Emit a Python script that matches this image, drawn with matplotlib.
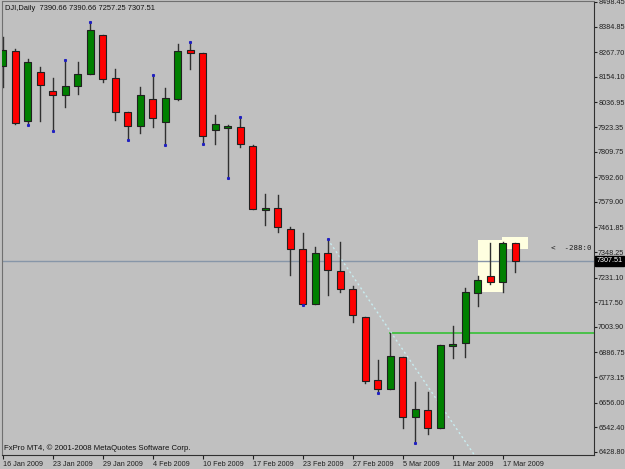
import matplotlib
matplotlib.use("Agg")
import matplotlib.pyplot as plt
from matplotlib.patches import Rectangle
import matplotlib.transforms as mtransforms

plt.rcParams["font.family"] = ["Liberation Sans", "DejaVu Sans"]

# -----data-----

dates = ["16 Jan 2009", "20 Jan 2009", "21 Jan 2009", "22 Jan 2009", "23 Jan 2009",
         "26 Jan 2009", "27 Jan 2009", "28 Jan 2009", "29 Jan 2009", "30 Jan 2009",
         "2 Feb 2009", "3 Feb 2009", "4 Feb 2009", "5 Feb 2009", "6 Feb 2009",
         "9 Feb 2009", "10 Feb 2009", "11 Feb 2009", "12 Feb 2009", "13 Feb 2009",
         "17 Feb 2009", "18 Feb 2009", "19 Feb 2009", "20 Feb 2009", "23 Feb 2009",
         "24 Feb 2009", "25 Feb 2009", "26 Feb 2009", "27 Feb 2009", "2 Mar 2009",
         "3 Mar 2009", "4 Mar 2009", "5 Mar 2009", "6 Mar 2009", "9 Mar 2009",
         "10 Mar 2009", "11 Mar 2009", "12 Mar 2009", "13 Mar 2009", "16 Mar 2009",
         "17 Mar 2009", "18 Mar 2009"]

opens = [8205.5, 8273.0, 7952.5, 8176.5, 8090.5, 8070.6, 8113.4, 8168.6, 8346.6, 8147.5,
         7992.5, 7929.4, 8050.9, 7947.9, 8050.9, 8276.2, 8262.5, 7909.7, 7917.5, 7922.0,
         7837.4, 7541.6, 7549.5, 7452.9, 7360.9, 7108.0, 7345.3, 7262.6, 7176.9, 7050.8,
         6758.2, 6719.6, 6866.9, 6589.5, 6621.6, 6540.2, 6917.4, 6928.5, 7161.2, 7238.0,
         7211.8, 7390.66]
highs = [8336.0, 8280.9, 8236.0, 8199.5, 8147.5, 8233.0, 8221.0, 8406.4, 8346.6, 8190.2,
         7992.5, 8106.0, 8161.3, 8101.5, 8306.6, 8315.8, 8262.5, 7978.7, 7932.6, 7970.8,
         7840.0, 7613.9, 7609.3, 7464.9, 7434.5, 7372.9, 7406.9, 7395.8, 7192.0, 7050.8,
         6851.6, 6974.5, 6866.9, 6751.9, 6705.8, 6920.6, 7008.0, 7181.5, 7238.0, 7388.5,
         7395.8, 7390.66]
lows = [8106.0, 7936.0, 7932.6, 7952.5, 7906.5, 8016.8, 8073.9, 8166.0, 8131.8, 7955.6,
        7863.6, 7897.0, 7922.0, 7840.6, 8048.0, 8190.2, 7845.2, 7845.2, 7690.2, 7832.8,
        7544.0, 7474.0, 7441.8, 7244.0, 7103.0, 7108.0, 7149.3, 7165.8, 7027.8, 6747.0,
        6701.3, 6719.6, 6538.8, 6468.5, 6509.9, 6540.2, 6859.5, 6866.9, 7100.0, 7201.2,
        7165.8, 7257.25]
closes = [8277.7, 7940.5, 8223.8, 8118.0, 8070.6, 8110.7, 8168.6, 8369.6, 8142.9, 7993.8,
          7929.4, 8070.6, 7966.2, 8058.3, 8273.0, 8265.2, 7882.0, 7935.9, 7928.0, 7843.9,
          7546.3, 7549.5, 7462.0, 7360.9, 7108.0, 7345.3, 7265.6, 7176.9, 7058.6, 6755.0,
          6719.6, 6870.0, 6589.5, 6625.0, 6540.2, 6920.6, 6925.3, 7165.8, 7219.6, 7211.8,
          7388.5, 7307.51]

# small blue marks at some highs / lows
marks_up = [5, 7, 12, 15, 19, 26]
marks_down = [2, 4, 10, 13, 16, 18, 24, 30, 33]

yticks = [8498.45, 8384.85, 8267.70, 8154.10, 8036.95, 7923.35, 7809.75, 7692.60,
          7579.00, 7461.85, 7348.25, 7231.10, 7117.50, 7003.90, 6886.75, 6773.15,
          6656.00, 6542.40, 6428.80]

bid = 7307.51
level_start, level_price = 31, 6974.5          # green horizontal line
trend = [(26, 7406.9), (38, 6392.0)]           # dotted trend line
boxes = [(38.0, 7165.8, 2.0, 237.8), (39.95, 7363.6, 2.05, 52.4)]

# -----plot-----

fig = plt.figure(figsize=(6.25, 4.69), dpi=100)
fig.patch.set_facecolor("#c0c0c0")
ax = fig.add_axes([2 / 625, 14 / 469, 592 / 625, 453.5 / 469])
ax.set_facecolor("#c0c0c0")

ax.set_xlim(-0.056, 47.3)
ax.set_ylim(8507.65 - 4.6 * 455, 8507.65 - 4.6 * 1.5)

for x, y, w, h in boxes:
    ax.add_patch(Rectangle((x, y), w, h, facecolor="#ffffe0", edgecolor="none", zorder=1))

ax.axhline(bid, color="#8796a8", lw=1, zorder=1.5)
ax.plot([level_start, 60], [level_price, level_price], color="#40c040", lw=1.3, zorder=1.5)
ax.plot([p[0] for p in trend], [p[1] for p in trend], color="#c8ecf0", lw=1,
        ls=(0, (1.5, 2)), zorder=1.5)

w = 0.58
for i in range(len(opens)):
    o, h, l, c = opens[i], highs[i], lows[i], closes[i]
    ax.plot([i, i], [l, h], color="#303030", lw=1, zorder=2)
    col = "#008000" if c >= o else "#ff0000"
    ax.add_patch(Rectangle((i - w / 2, min(o, c)), w, max(abs(c - o), 2.0),
                           facecolor=col, edgecolor="#202020", lw=0.8, zorder=3))

ax.plot(marks_up, [highs[i] for i in marks_up], ls="none", marker="s", ms=1.2,
        color="#2020c0", zorder=4)
ax.plot(marks_down, [lows[i] for i in marks_down], ls="none", marker="s", ms=1.2,
        color="#2020c0", zorder=4)

# axes look
for side in ["left", "top"]:
    ax.spines[side].set_color("#707070")
for side in ["right", "bottom"]:
    ax.spines[side].set_color("#303030")

ax.yaxis.tick_right()
ax.set_yticks(yticks)
ax.set_yticklabels(["%.2f" % v for v in yticks])
ax.tick_params(axis="y", length=2.5, pad=0.5, labelsize=5.2, colors="#202020")

xt = list(range(0, len(dates), 4))
ax.set_xticks(xt)
ax.set_xticklabels([dates[i] for i in xt])
ax.tick_params(axis="x", length=3, pad=1.5, labelsize=5.2, colors="#202020")
for lbl in ax.get_xticklabels():
    lbl.set_horizontalalignment("left")

trans = mtransforms.blended_transform_factory(ax.transAxes, ax.transData)
ax.text(1.004, bid, "%.2f" % bid, transform=trans, fontsize=5.2, color="white",
        va="center", ha="left",
        bbox=dict(boxstyle="square,pad=0.2", facecolor="black", edgecolor="black"))

ax.text(43.9, 7366.8, "<  -288:0", fontsize=5.4, family="DejaVu Sans Mono",
        color="#202020", va="center", ha="left")

ax.text(0.005, 0.992, "DJI,Daily  7390.66 7390.66 7257.25 7307.51", transform=ax.transAxes,
        fontsize=5.4, va="top", ha="left", color="#101010")
ax.text(0.004, 0.006, "FxPro MT4, \u00a9 2001-2008 MetaQuotes Software Corp.",
        transform=ax.transAxes, fontsize=5.6, va="bottom", ha="left", color="#101010")

fig.savefig("out.png", dpi=100, facecolor=fig.get_facecolor())
